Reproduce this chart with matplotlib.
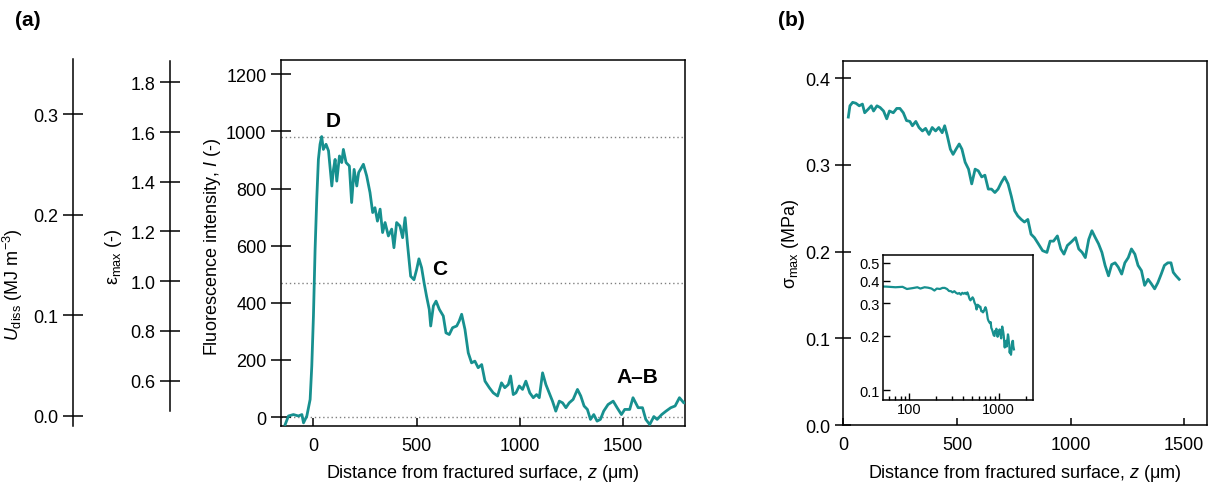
import numpy as np
import matplotlib
matplotlib.use("Agg")
import matplotlib.pyplot as plt
from matplotlib.ticker import FixedLocator, NullLocator, LogLocator, NullFormatter

plt.rcParams['font.family'] = ['Liberation Sans', 'DejaVu Sans']
plt.rcParams['mathtext.fontset'] = 'custom'
plt.rcParams['mathtext.rm'] = 'Liberation Sans'
plt.rcParams['mathtext.it'] = 'Liberation Sans:italic'
plt.rcParams['axes.linewidth'] = 1.1

# ---- data (a): fluorescence intensity vs distance
z_a = [-137, -121, -97, -73, -56, -48, -32, -16, -8, 0, 8, 16, 24, 32, 40, 48, 61, 73,
       89, 97, 105, 113, 126, 137, 145, 158, 174, 185, 197, 210, 219, 242, 258, 274,
       287, 298, 310, 323, 335, 347, 363, 379, 390, 403, 419, 432, 444, 455, 471, 487,
       500, 511, 524, 536, 548, 561, 568, 581, 594, 610, 629, 642, 658, 674, 694, 706,
       718, 734, 750, 766, 782, 798, 815, 831, 852, 871, 892, 911, 927, 944, 955, 968,
       981, 997, 1013, 1029, 1048, 1065, 1081, 1094, 1110, 1126, 1142, 1158, 1174, 1191,
       1207, 1223, 1239, 1258, 1279, 1295, 1311, 1327, 1342, 1358, 1374, 1390, 1406, 1427,
       1452, 1471, 1492, 1508, 1532, 1548, 1573, 1594, 1610, 1629, 1649, 1665, 1687, 1708,
       1731, 1752, 1773, 1794, 1802]
I_a = [-26, 4, 9, 4, 9, -20, 4, 62, 179, 354, 587, 762, 902, 955, 982, 937, 955, 932,
       809, 867, 902, 826, 914, 891, 937, 891, 879, 751, 867, 809, 856, 885, 844, 786,
       716, 733, 686, 728, 646, 681, 634, 658, 593, 681, 669, 628, 698, 610, 493, 481,
       517, 554, 523, 470, 423, 377, 319, 389, 406, 377, 354, 295, 289, 313, 319, 336,
       360, 307, 225, 190, 196, 173, 184, 126, 103, 85, 74, 120, 103, 114, 144, 79,
       85, 109, 97, 126, 85, 68, 79, 68, 155, 114, 85, 56, 21, 56,
       50, 33, 50, 62, 97, 74, 39, 27, -8, 9, -14, -8, 21, 44,
       56, 33, 9, 27, 27, 68, 33, 33, -8, -26, 2, -8, 9, 21,
       33, 39, 68, 50, 50]
ref_levels = [980, 470, 0]

# ---- data (b): sigma_max vs distance
z_b = [22, 29, 41, 55, 70, 84, 94, 109, 123, 133, 148, 162, 177, 191, 203, 220, 235, 249,
       264, 278, 293, 304, 319, 333, 348, 362, 377, 391, 406, 420, 435, 446, 457, 471,
       483, 496, 510, 522, 536, 551, 565, 580, 594, 609, 623, 638, 652, 667, 681, 696,
       710, 725, 739, 754, 768, 783, 797, 812, 826, 841, 858, 877, 896, 910, 925, 942,
       957, 971, 986, 1003, 1022, 1036, 1051, 1065, 1080, 1094, 1109, 1123, 1138, 1152,
       1167, 1181, 1196, 1210, 1225, 1239, 1254, 1268, 1283, 1297, 1312, 1326, 1341,
       1355, 1370, 1384, 1399, 1413, 1428, 1442, 1452, 1464, 1478]
s_b = [0.355, 0.368, 0.372, 0.371, 0.368, 0.370, 0.360, 0.364, 0.368, 0.362, 0.368, 0.366,
       0.362, 0.353, 0.362, 0.360, 0.365, 0.365, 0.360, 0.351, 0.350, 0.345, 0.350, 0.343,
       0.339, 0.342, 0.335, 0.343, 0.339, 0.343, 0.337, 0.345, 0.334, 0.318, 0.312, 0.318,
       0.324, 0.318, 0.303, 0.295, 0.278, 0.295, 0.293, 0.286, 0.288, 0.272, 0.272, 0.268,
       0.272, 0.280, 0.286, 0.278, 0.264, 0.247, 0.241, 0.237, 0.234, 0.237, 0.220, 0.216,
       0.209, 0.201, 0.199, 0.212, 0.212, 0.218, 0.203, 0.197, 0.207, 0.211, 0.216, 0.203,
       0.199, 0.193, 0.214, 0.224, 0.216, 0.209, 0.199, 0.184, 0.172, 0.185, 0.187, 0.182,
       0.174, 0.187, 0.193, 0.203, 0.197, 0.184, 0.178, 0.161, 0.168, 0.163, 0.157, 0.164,
       0.174, 0.184, 0.187, 0.187, 0.176, 0.172, 0.168]

teal = '#17908f'
fs = 13

fig = plt.figure(figsize=(12.15, 4.89), dpi=100)

# ---- panel (a) main axes
ax = fig.add_axes([0.2313, 0.1274, 0.3325, 0.7479])
for lv in ref_levels:
    ax.axhline(lv, color='#808080', ls=(0, (1, 2)), lw=1.0, zorder=1)
ax.plot(z_a, I_a, color=teal, lw=2.0, zorder=3)
ax.set_xlim(-157, 1800)
ax.set_ylim(-30, 1250)
ax.set_xticks([0, 500, 1000, 1500])
ax.set_yticks(range(0, 1201, 200))
ax.tick_params(axis='y', direction='inout', length=14, width=1.1, labelsize=fs)
ax.tick_params(axis='x', direction='in', length=6, width=1.1, labelsize=fs, pad=8)
ax.set_xlabel('Distance from fractured surface, $z$ (μm)', fontsize=fs)
ax.set_ylabel('Fluorescence intensity, $I$ (-)', fontsize=fs)
ax.yaxis.set_label_coords(223 / 1215, 1 - 247 / 489, transform=fig.transFigure)
ax.xaxis.set_label_coords(483 / 1215, 1 - 463 / 489, transform=fig.transFigure)
ax.text(97, 1037, 'D', fontsize=15, fontweight='bold', ha='center', va='center')
ax.text(613, 521, 'C', fontsize=15, fontweight='bold', ha='center', va='center')
ax.text(1568, 141, 'A–B', fontsize=15, fontweight='bold', ha='center', va='center')


def spine_axis(rect, lim, ticks, fmt):
    a = fig.add_axes(rect)
    a.set_facecolor('none')
    for s in ['top', 'right', 'bottom']:
        a.spines[s].set_visible(False)
    a.set_xticks([])
    a.set_ylim(*lim)
    a.set_yticks(ticks)
    a.set_yticklabels([fmt.format(t) for t in ticks])
    a.tick_params(axis='y', direction='inout', length=14, width=1.1, labelsize=fs)
    return a


eps_ticks = [0.6, 0.8, 1.0, 1.2, 1.4, 1.6, 1.8]
u_ticks = [0.0, 0.1, 0.2, 0.3]
ax_e = spine_axis([170 / 1215, 1 - 411.7 / 489, 0.001, 350 / 489], (0.479, 1.887), eps_ticks, '{:.1f}')
ax_e.set_ylabel('ε$_{\\rm max}$ (-)', fontsize=fs)
ax_e.yaxis.set_label_coords(124 / 1215, 1 - 257 / 489, transform=fig.transFigure)
ax_u = spine_axis([73.3 / 1215, 1 - 426.7 / 489, 0.001, 366.7 / 489], (-0.0099, 0.3547), u_ticks, '{:.1f}')
ax_u.set_ylabel('$U_{\\rm diss}$ (MJ m$^{-3}$)', fontsize=fs)
ax_u.yaxis.set_label_coords(25 / 1215, 1 - 285 / 489, transform=fig.transFigure)

# ---- panel (b)
bx = fig.add_axes([0.6941, 0.1288, 0.2996, 0.745])
bx.plot(z_b, s_b, color=teal, lw=2.0)
bx.set_xlim(0, 1602)
bx.set_ylim(0, 0.42)
bx.set_xticks([0, 500, 1000, 1500])
bx.set_yticks([0.0, 0.1, 0.2, 0.3, 0.4])
bx.set_yticklabels(['0.0', '0.1', '0.2', '0.3', '0.4'])
bx.tick_params(axis='y', direction='inout', length=12, width=1.1, labelsize=fs)
bx.tick_params(axis='x', direction='in', length=5, width=1.1, labelsize=fs, pad=8)
bx.set_xlabel('Distance from fractured surface, $z$ (μm)', fontsize=fs)
bx.set_ylabel('σ$_{\\rm max}$ (MPa)', fontsize=fs)
bx.yaxis.set_label_coords(801 / 1215, 1 - 244 / 489, transform=fig.transFigure)
bx.xaxis.set_label_coords(1025 / 1215, 1 - 463 / 489, transform=fig.transFigure)

# inset (log-log)
ix = fig.add_axes([0.7265, 0.1806, 0.1235, 0.2959])
ix.plot(z_b, s_b, color=teal, lw=1.6)
ix.set_xscale('log')
ix.set_yscale('log')
ix.set_xlim(50.4, 2400)
ix.set_ylim(0.089, 0.553)
ix.yaxis.set_major_locator(FixedLocator([0.1, 0.2, 0.3, 0.4, 0.5]))
ix.yaxis.set_minor_locator(NullLocator())
ix.set_yticklabels(['0.1', '0.2', '0.3', '0.4', '0.5'])
ix.xaxis.set_major_locator(FixedLocator([100, 1000]))
ix.xaxis.set_minor_locator(LogLocator(base=10, subs=np.arange(2, 10)))
ix.xaxis.set_minor_formatter(NullFormatter())
ix.set_xticklabels(['100', '1000'])
ix.tick_params(which='both', direction='in', width=1.0, labelsize=10.5, pad=2)
ix.tick_params(which='major', length=5)
ix.tick_params(which='minor', length=3)

fig.text(15 / 1215, 1 - 20 / 489, '(a)', fontsize=15, fontweight='bold', va='center')
fig.text(778 / 1215, 1 - 20 / 489, '(b)', fontsize=15, fontweight='bold', va='center')

fig.savefig('out.png', dpi=100)
